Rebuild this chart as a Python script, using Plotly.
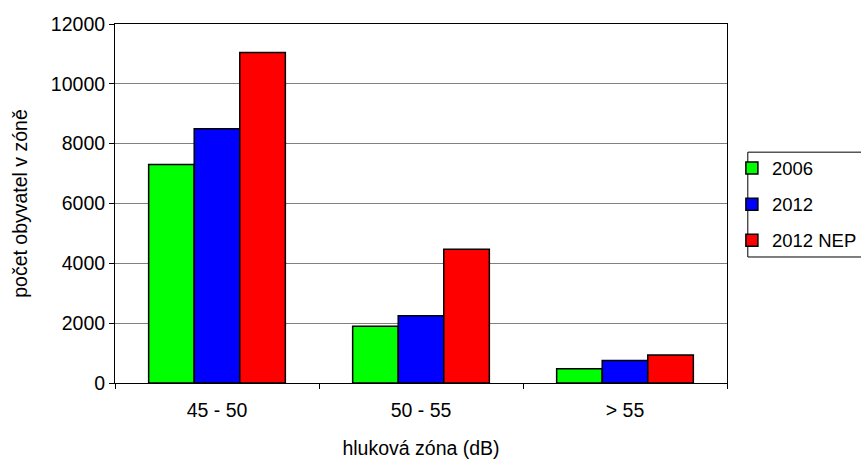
import plotly.graph_objects as go

zones = ["45 - 50", "50 - 55", "> 55"]
v2006 = [7300, 1900, 480]
v2012 = [8500, 2250, 750]
v2012_nep = [11050, 4470, 940]

series = [
    ("2006", v2006, "#00ff00"),
    ("2012", v2012, "#0000ff"),
    ("2012 NEP", v2012_nep, "#ff0000"),
]

fig = go.Figure()
for i, (name, vals, color) in enumerate(series):
    fig.add_trace(go.Bar(
        x=zones, y=vals, name=name, legendgroup=f"g{i}",
        marker=dict(color=color, line=dict(color="black", width=1.5)),
    ))

family = "Liberation Sans, Arial, sans-serif"
tick_font = dict(family=family, size=19.5, color="black")
title_font = dict(family=family, size=19.5, color="black")

# frame around the legend, open on the right edge of the page
fig.add_shape(type="rect", xref="paper", yref="paper",
              x0=1.034, x1=1.35, y0=0.351, y1=0.643,
              line=dict(color="black", width=1), fillcolor="rgba(0,0,0,0)")

fig.update_layout(
    width=861, height=459,
    margin=dict(l=115, r=134, t=24, b=76, autoexpand=False),
    paper_bgcolor="white", plot_bgcolor="white",
    font=tick_font,
    barmode="group", bargap=0.33, bargroupgap=0,
    showlegend=True,
    legend=dict(
        x=1.008, y=0.497, xanchor="left", yanchor="middle",
        borderwidth=0, bgcolor="rgba(0,0,0,0)",
        tracegroupgap=9, traceorder="grouped",
        font=dict(family=family, size=18.5, color="black"),
        itemwidth=30,
    ),
    xaxis=dict(
        title=dict(text="hluková zóna (dB)", standoff=20, font=title_font),
        showline=True, linecolor="black", linewidth=1, mirror=True,
        ticks="outside", tickson="boundaries", ticklen=5, tickcolor="black",
        ticklabelstandoff=10,
        showgrid=False, automargin=False,
    ),
    yaxis=dict(
        title=dict(text="počet obyvatel v zóně", standoff=18, font=title_font),
        range=[0, 12000], dtick=2000, tickformat="d",
        showline=True, linecolor="black", linewidth=1, mirror=True,
        ticks="outside", ticklen=5, tickcolor="black",
        showgrid=True, gridcolor="#808080", gridwidth=1,
        zeroline=False, automargin=False,
    ),
)

fig.write_html("out.html")
